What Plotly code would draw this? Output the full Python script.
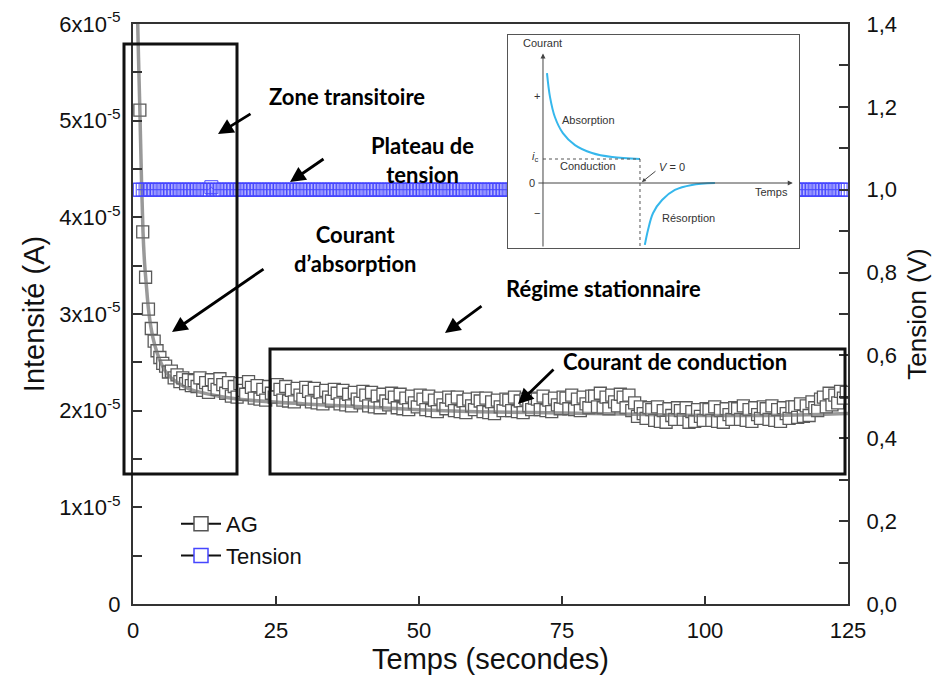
import plotly.graph_objects as go

# ---------------- data ----------------
TIME_S = [
    0.7, 1.2, 1.7, 2.2, 2.7, 3.2, 3.7, 4.2, 4.7, 5.2,
    5.7, 6.2, 6.7, 7.2, 7.7, 8.2, 8.7, 9.2, 9.7, 10.2,
    10.7, 11.2, 11.7, 12.2, 12.7, 13.2, 13.7, 14.2, 14.7, 15.2,
    15.7, 16.2, 16.7, 17.2, 17.7, 18.2, 18.7, 19.2, 19.7, 20.2,
    20.7, 21.2, 21.7, 22.2, 22.7, 23.2, 23.7, 24.2, 24.7, 25.2,
    25.7, 26.2, 26.7, 27.2, 27.7, 28.2, 28.7, 29.2, 29.7, 30.2,
    30.7, 31.2, 31.7, 32.2, 32.7, 33.2, 33.7, 34.2, 34.7, 35.2,
    35.7, 36.2, 36.7, 37.2, 37.7, 38.2, 38.7, 39.2, 39.7, 40.2,
    40.7, 41.2, 41.7, 42.2, 42.7, 43.2, 43.7, 44.2, 44.7, 45.2,
    45.7, 46.2, 46.7, 47.2, 47.7, 48.2, 48.7, 49.2, 49.7, 50.2,
    50.7, 51.2, 51.7, 52.2, 52.7, 53.2, 53.7, 54.2, 54.7, 55.2,
    55.7, 56.2, 56.7, 57.2, 57.7, 58.2, 58.7, 59.2, 59.7, 60.2,
    60.7, 61.2, 61.7, 62.2, 62.7, 63.2, 63.7, 64.2, 64.7, 65.2,
    65.7, 66.2, 66.7, 67.2, 67.7, 68.2, 68.7, 69.2, 69.7, 70.2,
    70.7, 71.2, 71.7, 72.2, 72.7, 73.2, 73.7, 74.2, 74.7, 75.2,
    75.7, 76.2, 76.7, 77.2, 77.7, 78.2, 78.7, 79.2, 79.7, 80.2,
    80.7, 81.2, 81.7, 82.2, 82.7, 83.2, 83.7, 84.2, 84.7, 85.2,
    85.7, 86.2, 86.7, 87.2, 87.7, 88.2, 88.7, 89.2, 89.7, 90.2,
    90.7, 91.2, 91.7, 92.2, 92.7, 93.2, 93.7, 94.2, 94.7, 95.2,
    95.7, 96.2, 96.7, 97.2, 97.7, 98.2, 98.7, 99.2, 99.7, 100.2,
    100.7, 101.2, 101.7, 102.2, 102.7, 103.2, 103.7, 104.2, 104.7, 105.2,
    105.7, 106.2, 106.7, 107.2, 107.7, 108.2, 108.7, 109.2, 109.7, 110.2,
    110.7, 111.2, 111.7, 112.2, 112.7, 113.2, 113.7, 114.2, 114.7, 115.2,
    115.7, 116.2, 116.7, 117.2, 117.7, 118.2, 118.7, 119.2, 119.7, 120.2,
    120.7, 121.2, 121.7, 122.2, 122.7, 123.2, 123.7, 124.2, 124.7,
]

# AG current, in units of 1e-5 A (square markers)
AG_CURRENT = [
    6.90, 5.11, 3.85, 3.38, 3.05, 2.85, 2.72, 2.62, 2.55, 2.49,
    2.46, 2.40, 2.41, 2.34, 2.37, 2.30, 2.34, 2.28, 2.32, 2.26,
    2.31, 2.25, 2.34, 2.21, 2.29, 2.19, 2.32, 2.27, 2.22, 2.33,
    2.27, 2.18, 2.29, 2.15, 2.25, 2.14, 2.28, 2.21, 2.17, 2.30,
    2.24, 2.13, 2.26, 2.12, 2.22, 2.11, 2.25, 2.18, 2.14, 2.27,
    2.22, 2.11, 2.25, 2.10, 2.21, 2.09, 2.23, 2.16, 2.12, 2.24,
    2.20, 2.09, 2.23, 2.08, 2.19, 2.07, 2.21, 2.14, 2.10, 2.22,
    2.18, 2.07, 2.21, 2.06, 2.17, 2.05, 2.19, 2.12, 2.08, 2.20,
    2.16, 2.05, 2.19, 2.04, 2.15, 2.03, 2.17, 2.10, 2.06, 2.18,
    2.14, 2.03, 2.17, 2.02, 2.13, 2.01, 2.15, 2.08, 2.04, 2.16,
    2.12, 2.01, 2.15, 2.00, 2.11, 1.99, 2.13, 2.06, 2.02, 2.14,
    2.11, 2.00, 2.14, 1.99, 2.10, 1.98, 2.12, 2.05, 2.01, 2.13,
    2.10, 1.99, 2.13, 1.98, 2.09, 1.97, 2.11, 2.04, 2.00, 2.12,
    2.11, 2.00, 2.14, 1.99, 2.10, 1.98, 2.12, 2.05, 2.01, 2.13,
    2.12, 2.01, 2.15, 2.00, 2.11, 1.99, 2.13, 2.06, 2.02, 2.14,
    2.13, 2.02, 2.16, 2.01, 2.12, 2.00, 2.14, 2.07, 2.03, 2.15,
    2.15, 2.04, 2.18, 2.03, 2.14, 2.02, 2.16, 2.09, 2.05, 2.17,
    2.14, 2.03, 2.16, 2.00, 2.08, 1.94, 2.04, 1.97, 1.92, 2.03,
    2.01, 1.90, 2.04, 1.89, 2.00, 1.88, 2.02, 1.95, 1.91, 2.03,
    2.00, 1.91, 2.03, 1.88, 1.99, 1.89, 2.01, 1.94, 1.90, 2.02,
    2.01, 1.90, 2.04, 1.89, 2.00, 1.88, 2.02, 1.96, 1.91, 2.03,
    2.02, 1.91, 2.05, 1.90, 2.01, 1.89, 2.03, 1.96, 1.92, 2.04,
    2.02, 1.91, 2.05, 1.90, 2.01, 1.89, 2.03, 1.97, 1.92, 2.04,
    2.04, 1.93, 2.07, 1.94, 2.05, 1.95, 2.09, 2.03, 2.00, 2.12,
    2.14, 2.04, 2.18, 2.06, 2.16, 2.08, 2.20, 2.13, 2.19,
]

# smooth grey AG curve (1e-5 A)
AG_CURVE_T = [0.6, 0.9, 1.2, 1.5, 1.75, 2.0, 2.3, 2.8, 3.5, 4.2, 5.0, 6.0, 7.5,
              10, 15, 20, 30, 40, 50, 60, 70, 80, 90, 100, 110, 120, 125]
AG_CURVE_I = [6.6, 5.8, 5.11, 4.35, 3.85, 3.55, 3.32, 3.0, 2.75, 2.6, 2.48, 2.38, 2.3,
              2.22, 2.15, 2.11, 2.07, 2.04, 2.01, 1.99, 1.98, 1.97, 1.96, 1.95, 1.95, 1.96, 1.97]

# Tension (V)
TENSION_V = [
    1.0, 1.0, 1.0, 1.0, 1.0, 1.0, 1.0, 1.0, 1.0, 1.0,
    1.0, 1.0, 1.0, 1.0, 1.0, 1.0, 1.0, 1.0, 1.0, 1.0,
    1.0, 1.0, 1.0, 1.0, 1.0, 1.0, 1.006, 1.0, 1.0, 1.0,
    1.0, 1.0, 1.0, 1.0, 1.0, 1.0, 1.0, 1.0, 1.0, 1.0,
    1.0, 1.0, 1.0, 1.0, 1.0, 1.0, 1.0, 1.0, 1.0, 1.0,
    1.0, 1.0, 1.0, 1.0, 1.0, 1.0, 1.0, 1.0, 1.0, 1.0,
    1.0, 1.0, 1.0, 1.0, 1.0, 1.0, 1.0, 1.0, 1.0, 1.0,
    1.0, 1.0, 1.0, 1.0, 1.0, 1.0, 1.0, 1.0, 1.0, 1.0,
    1.0, 1.0, 1.0, 1.0, 1.0, 1.0, 1.0, 1.0, 1.0, 1.0,
    1.0, 1.0, 1.0, 1.0, 1.0, 1.0, 1.0, 1.0, 1.0, 1.0,
    1.0, 1.0, 1.0, 1.0, 1.0, 1.0, 1.0, 1.0, 1.0, 1.0,
    1.0, 1.0, 1.0, 1.0, 1.0, 1.0, 1.0, 1.0, 1.0, 1.0,
    1.0, 1.0, 1.0, 1.0, 1.0, 1.0, 1.0, 1.0, 1.0, 1.0,
    1.0, 1.0, 1.0, 1.0, 1.0, 1.0, 1.0, 1.0, 1.0, 1.0,
    1.0, 1.0, 1.0, 1.0, 1.0, 1.0, 1.0, 1.0, 1.0, 1.0,
    1.0, 1.0, 1.0, 1.0, 1.0, 1.0, 1.0, 1.0, 1.0, 1.0,
    1.0, 1.0, 1.0, 1.0, 1.0, 1.0, 1.0, 1.0, 1.0, 1.0,
    1.0, 1.0, 1.0, 1.0, 1.0, 1.0, 1.0, 1.0, 1.0, 1.0,
    1.0, 1.0, 1.0, 1.0, 1.0, 1.0, 1.0, 1.0, 1.0, 1.0,
    1.0, 1.0, 1.0, 1.0, 1.0, 1.0, 1.0, 1.0, 1.0, 1.0,
    1.0, 1.0, 1.0, 1.0, 1.0, 1.0, 1.0, 1.0, 1.0, 1.0,
    1.0, 1.0, 1.0, 1.0, 1.0, 1.0, 1.0, 1.0, 1.0, 1.0,
    1.0, 1.0, 1.0, 1.0, 1.0, 1.0, 1.0, 1.0, 1.0, 1.0,
    1.0, 1.0, 1.0, 1.0, 1.0, 1.0, 1.0, 1.0, 1.0, 1.0,
    1.0, 1.0, 1.0, 1.0, 1.0, 1.0, 1.0, 1.0, 1.0,
]

# tick labels
X_TICKS = [0, 25, 50, 75, 100, 125]
Y_LEFT_TICKS = [0, 1, 2, 3, 4, 5, 6]
Y_LEFT_LABELS = ["0", "1x10<sup>-5</sup>", "2x10<sup>-5</sup>", "3x10<sup>-5</sup>",
                 "4x10<sup>-5</sup>", "5x10<sup>-5</sup>", "6x10<sup>-5</sup>"]
Y_RIGHT_TICKS = [0, 0.2, 0.4, 0.6, 0.8, 1.0, 1.2, 1.4]
Y_RIGHT_LABELS = ["0,0", "0,2", "0,4", "0,6", "0,8", "1,0", "1,2", "1,4"]

# inset schematic (arbitrary units: time, current)
ABS_T = [0.165, 0.29, 0.49, 0.82, 1.32, 2.02, 2.85, 4.0]
ABS_I = [4.58, 3.58, 2.75, 2.08, 1.58, 1.25, 1.08, 1.0]
RES_T = [4.2, 4.33, 4.54, 4.91, 5.44, 6.14, 7.09]
RES_I = [-2.58, -1.96, -1.25, -0.71, -0.29, -0.08, 0.0]
IC_LEVEL = 1.0
T_SWITCH = 4.0

# ---------------- layout geometry ----------------
# the page has an 8px body margin: figure pixel = page pixel - 8
OFF = 8
W, H = 941 - OFF, 675 - OFF
PLOT_X0, PLOT_X1, PLOT_Y0, PLOT_Y1 = 133, 848, 24, 604   # page pixels
L, R = PLOT_X0 - OFF, W - (PLOT_X1 - OFF)
T, B = PLOT_Y0 - OFF, H - (PLOT_Y1 - OFF)
PW, PH = W - L - R, H - T - B


def px(x):
    return (x - PLOT_X0) / PW


def py(y):
    return (PLOT_Y1 - y) / PH


TXT = "Liberation Sans, Arial, sans-serif"
BOLD = "Lato, Open Sans, sans-serif"
AXC = "#333333"
BOX = "#111111"

fig = go.Figure()

# AG squares
fig.add_trace(go.Scatter(
    x=TIME_S, y=AG_CURRENT, mode="markers", showlegend=False,
    marker=dict(symbol="square", size=12, color="white",
                line=dict(color="#5a5a5a", width=1.3)),
    xaxis="x", yaxis="y", hoverinfo="skip"))
# grey AG curve
fig.add_trace(go.Scatter(
    x=AG_CURVE_T, y=AG_CURVE_I, mode="lines", showlegend=False,
    line=dict(color="rgba(110,110,110,0.7)", width=3.5, shape="spline"),
    xaxis="x", yaxis="y", hoverinfo="skip"))
# Tension squares
fig.add_trace(go.Scatter(
    x=TIME_S, y=TENSION_V, mode="lines+markers", showlegend=False,
    line=dict(color="rgb(70,70,255)", width=1),
    marker=dict(symbol="square-open", size=13, color="rgb(70,70,255)",
                line=dict(width=1)),
    xaxis="x", yaxis="y2", hoverinfo="skip"))

# legend entries
fig.add_trace(go.Scatter(
    x=[None], y=[None], mode="lines+markers", name="AG",
    line=dict(color="#111111", width=2),
    marker=dict(symbol="square", size=14, color="white",
                line=dict(width=1.5, color="#555555"))))
fig.add_trace(go.Scatter(
    x=[None], y=[None], mode="lines+markers", name="Tension",
    line=dict(color="#111111", width=2),
    marker=dict(symbol="square", size=14, color="white",
                line=dict(width=1.5, color="rgb(70,70,255)"))))

# inset curves
fig.add_trace(go.Scatter(x=ABS_T, y=ABS_I, mode="lines", showlegend=False,
                         line=dict(color="#35b7ec", width=2, shape="spline"),
                         xaxis="x3", yaxis="y3", hoverinfo="skip"))
fig.add_trace(go.Scatter(x=RES_T, y=RES_I, mode="lines", showlegend=False,
                         line=dict(color="#35b7ec", width=2, shape="spline"),
                         xaxis="x3", yaxis="y3", hoverinfo="skip"))

tickfont = dict(family=TXT, size=22, color="#111111")

fig.update_layout(
    width=W, height=H,
    margin=dict(l=L, r=R, t=T, b=B, autoexpand=False),
    paper_bgcolor="white", plot_bgcolor="white",
    font=dict(family=TXT, color="#111111"),
    legend=dict(x=px(176), y=py(503), xanchor="left", yanchor="top",
                bgcolor="rgba(0,0,0,0)", font=dict(family=TXT, size=22),
                tracegroupgap=0, itemwidth=40),
    xaxis=dict(domain=[0, 1], range=[0, 125], tickvals=X_TICKS,
               showgrid=False, zeroline=False, showline=True, mirror=True,
               linecolor=AXC, linewidth=2, ticks="inside", ticklen=8,
               tickcolor=AXC, tickwidth=1.5, tickfont=tickfont,
               ticklabelstandoff=6,
               title=dict(text="Temps (secondes)", font=dict(family=TXT, size=29),
                          standoff=4)),
    yaxis=dict(domain=[0, 1], range=[0, 6], tickvals=Y_LEFT_TICKS, ticktext=Y_LEFT_LABELS,
               showgrid=False, zeroline=False, showline=True,
               linecolor=AXC, linewidth=2, ticks="inside", ticklen=9,
               tickcolor=AXC, tickwidth=1.5, tickfont=tickfont,
               ticklabelstandoff=6,
               minor=dict(tickvals=[0.5, 1.5, 2.5, 3.5, 4.5, 5.5], ticks="inside",
                          ticklen=9, tickcolor=AXC, tickwidth=1.5),
               title=dict(text="Intensité (A)", font=dict(family=TXT, size=29),
                          standoff=6)),
    yaxis2=dict(overlaying="y", side="right", range=[0, 1.4],
                tickvals=Y_RIGHT_TICKS, ticktext=Y_RIGHT_LABELS,
                showgrid=False, zeroline=False, showline=True,
                linecolor=AXC, linewidth=2, ticks="inside", ticklen=9,
                tickcolor=AXC, tickwidth=1.5, tickfont=tickfont,
                ticklabelstandoff=12,
                minor=dict(tickvals=[0.1, 0.3, 0.5, 0.7, 0.9, 1.1, 1.3], ticks="inside",
                           ticklen=9, tickcolor=AXC, tickwidth=1.5),
                title=dict(text="Tension (V)", font=dict(family=TXT, size=26),
                           standoff=12)),
    xaxis3=dict(domain=[px(508), px(799)], range=[-1.443, 10.557], anchor="y3",
                showgrid=False, zeroline=False, showticklabels=False, ticks="",
                showline=True, mirror=True, linecolor="#555555", linewidth=1),
    yaxis3=dict(domain=[py(248), py(35)], range=[-2.708, 6.167], anchor="x3",
                showgrid=False, zeroline=False, showticklabels=False, ticks="",
                showline=True, mirror=True, linecolor="#555555", linewidth=1),
)

# ---------- rectangles ----------
shapes = [
    dict(type="rect", xref="paper", yref="paper", x0=px(124), x1=px(237),
         y0=py(474), y1=py(44), line=dict(color=BOX, width=3)),
    dict(type="rect", xref="paper", yref="paper", x0=px(270), x1=px(845),
         y0=py(474), y1=py(349), line=dict(color=BOX, width=3)),
    # inset dashed guides
    dict(type="line", xref="x3", yref="y3", x0=0, x1=T_SWITCH, y0=IC_LEVEL, y1=IC_LEVEL,
         line=dict(color="#555555", width=1, dash="dot")),
    dict(type="line", xref="x3", yref="y3", x0=T_SWITCH, x1=T_SWITCH, y0=IC_LEVEL, y1=-2.708,
         line=dict(color="#555555", width=1, dash="dot")),
]
fig.update_layout(shapes=shapes)

# ---------- annotations ----------
ann = []


def label(text, x, y, size=22):
    ann.append(dict(text="<b>" + text + "</b>", x=px(x), y=py(y), xref="paper", yref="paper",
                    showarrow=False, xanchor="center", yanchor="middle",
                    font=dict(family=BOLD, size=size, color="#000000")))


def arrow(x_head, y_head, x_tail, y_tail):
    ann.append(dict(text="", x=px(x_head), y=py(y_head), xref="paper", yref="paper",
                    ax=x_tail - x_head, ay=y_tail - y_head, showarrow=True,
                    arrowhead=2, arrowsize=1.1, arrowwidth=2.8, arrowcolor="#000000"))


label("Zone transitoire", 347, 97)
arrow(218, 134, 252, 113)
label("Plateau de<br>tension", 422, 160)
arrow(290, 182, 325, 158)
label("Courant<br>d’absorption", 355, 249)
arrow(172, 332, 265, 268)
label("Régime stationnaire", 603, 288)
arrow(445, 333, 483, 305)
label("Courant de conduction", 675, 361)
arrow(518, 404, 555, 368)


def itext(text, x, y, size=11):
    ann.append(dict(text=text, x=x, y=y, xref="x3", yref="y3", showarrow=False,
                    xanchor="center", yanchor="middle",
                    font=dict(family=TXT, size=size, color="#333333")))


itext("Courant", 0.0, 5.83)
itext("+", -0.25, 3.63)
itext("0", -0.45, 0.0)
itext("−", -0.25, -1.25)
itext("<i>i</i><sub>c</sub>", -0.33, 1.08)
itext("Absorption", 1.86, 2.63)
itext("Conduction", 1.86, 0.72)
itext("<i>V</i> = 0", 5.3, 0.67)
itext("Temps", 9.44, -0.38)
itext("Résorption", 5.98, -1.46)

# inset axes arrows
ann.append(dict(text="", x=0, y=5.4, xref="x3", yref="y3", ax=0, ay=-2.708,
                axref="x3", ayref="y3", showarrow=True, arrowhead=2, arrowsize=1,
                arrowwidth=1, arrowcolor="#444444"))
ann.append(dict(text="", x=10.3, y=0, xref="x3", yref="y3", ax=-0.25, ay=0,
                axref="x3", ayref="y3", showarrow=True, arrowhead=2, arrowsize=1,
                arrowwidth=1, arrowcolor="#444444"))
ann.append(dict(text="", x=4.08, y=0.04, xref="x3", yref="y3", ax=4.7, ay=0.54,
                axref="x3", ayref="y3", showarrow=True, arrowhead=2, arrowsize=0.8,
                arrowwidth=1, arrowcolor="#444444"))

fig.update_layout(annotations=ann)

fig.write_html("out.html")
